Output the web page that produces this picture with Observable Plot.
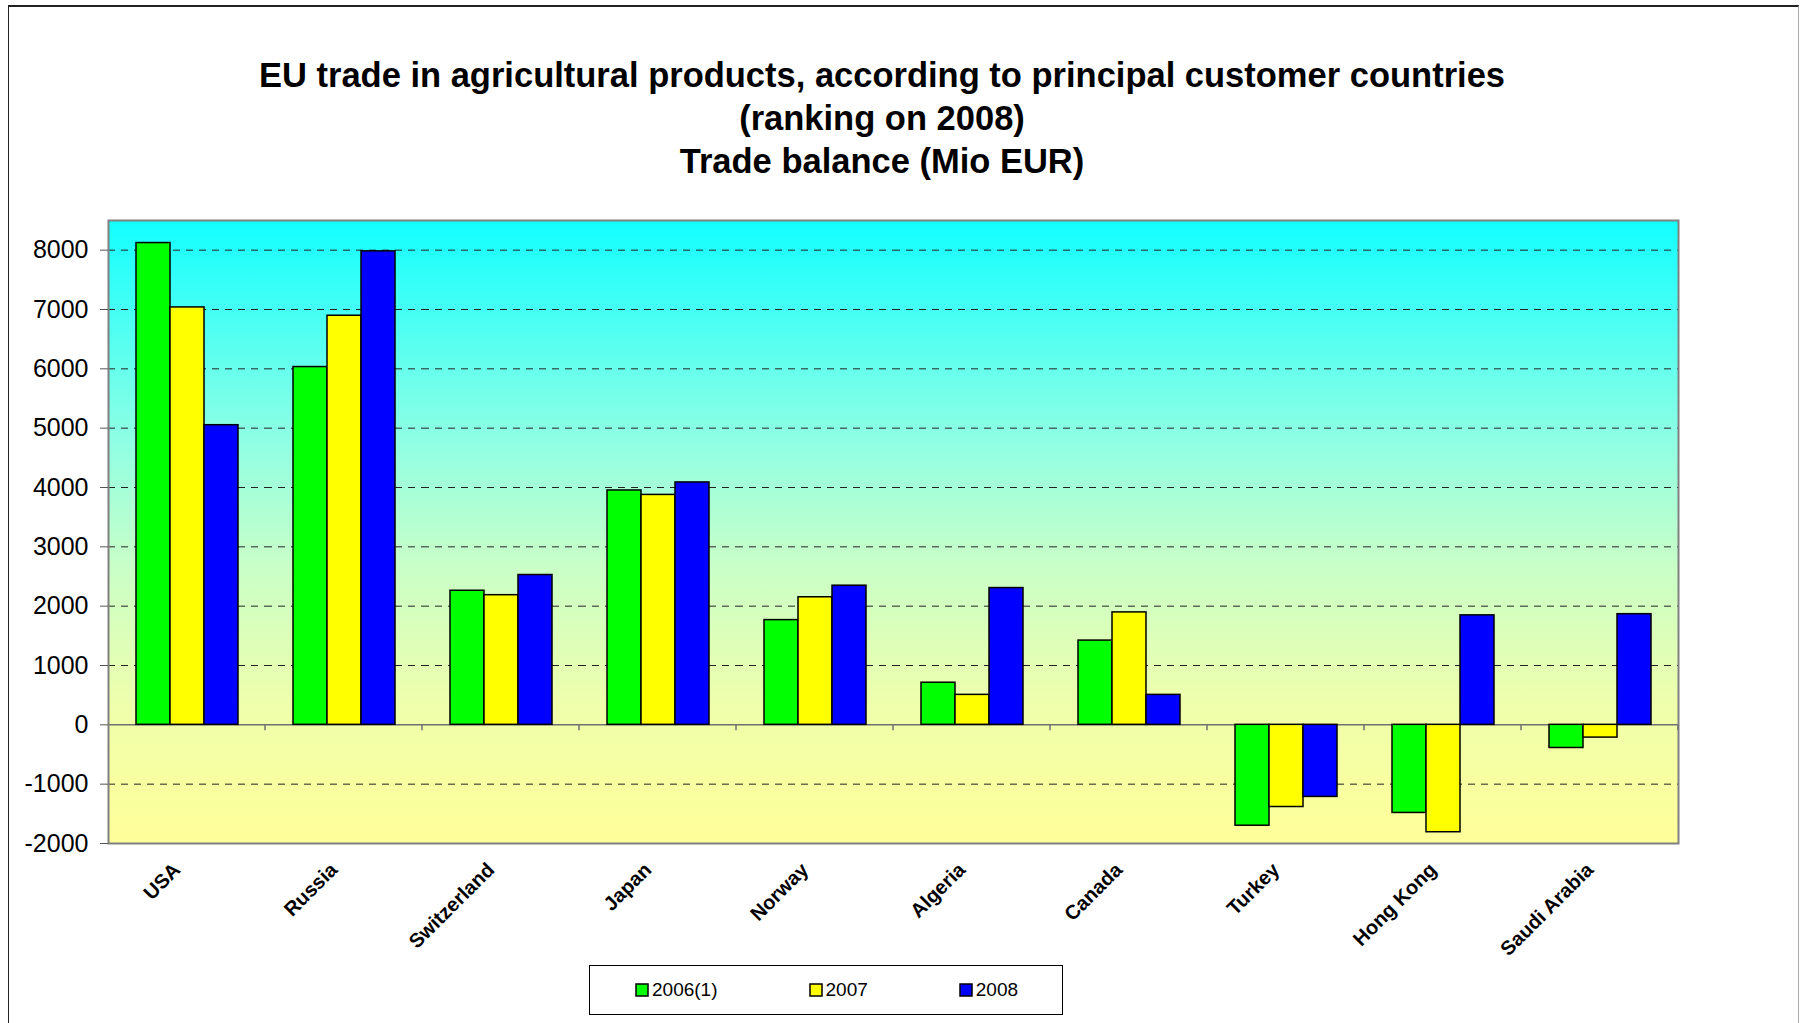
<!DOCTYPE html>
<html><head><meta charset="utf-8">
<script src="https://cdn.jsdelivr.net/npm/d3@7"></script>
<script src="https://cdn.jsdelivr.net/npm/@observablehq/plot@0.6"></script>
<style>
html,body{margin:0;padding:0;background:#fff;}
#page{position:relative;width:1800px;height:1023px;overflow:hidden;font-family:"Liberation Sans",Arial,sans-serif;}
#frame{position:absolute;left:8px;top:5px;width:1789px;height:1100px;border-left:1.5px solid #222;border-top:2px solid #222;border-right:1.5px solid #aaa;}
#title{position:absolute;left:0;top:54px;width:1764px;text-align:center;font-weight:bold;font-size:34.5px;line-height:43px;color:#000;}
#chart{position:absolute;left:0;top:180px;}
#legend{position:absolute;left:589px;top:965px;width:474px;height:50px;border:1px solid #000;background:#fff;display:flex;align-items:center;box-sizing:border-box;padding-left:46px;}
#legend div{font-family:"Liberation Sans",Arial,sans-serif;font-size:19px;margin:0;min-height:0;color:#000;flex-wrap:nowrap;}
#legend span{margin-right:92px;}
#legend span:last-child{margin-right:0;}
#legend svg{margin-right:4px;overflow:visible;}
#legend svg rect{stroke:#000;stroke-width:1.5;}
</style></head><body>
<div id="page">
<div id="frame"></div>
<div id="title">EU trade in agricultural products, according to principal customer countries<br>(ranking on 2008)<br>Trade balance (Mio EUR)</div>
<div id="chart"></div>
<div id="legend"></div>
</div>
<script>
const countries = ["USA","Russia","Switzerland","Japan","Norway","Algeria","Canada","Turkey","Hong Kong","Saudi Arabia"];
const years = ["2006(1)","2007","2008"];
const v2006 = [8120, 6030, 2260, 3950, 1765, 710, 1420, -1700, -1485, -390];
const v2007 = [7035, 6895, 2185, 3875, 2150, 505, 1895, -1385, -1810, -215];
const v2008 = [5050, 7980, 2525, 4085, 2345, 2305, 505, -1215, 1845, 1865];
const yearColors = ["#00ff00","#ffff00","#0000ff"];
const yTicks = [-2000,-1000,0,1000,2000,3000,4000,5000,6000,7000,8000];
const gridValues = [-1000,1000,2000,3000,4000,5000,6000,7000,8000];
const yDomain = [-2000, 8500];

const series = [v2006, v2007, v2008];
const data = countries.flatMap((c, i) => years.map((yr, j) => ({country: c, year: yr, value: series[j][i]})));

const chart = Plot.plot({
  width: 1800, height: 780,
  marginLeft: 108, marginRight: 122, marginTop: 40, marginBottom: 117,
  style: {fontFamily: '"Liberation Sans", Arial, sans-serif', background: "transparent", overflow: "visible", color: "#000"},
  fx: {domain: countries, padding: 0, label: null},
  x: {domain: years, paddingInner: 0, paddingOuter: 0.743, axis: null},
  y: {domain: yDomain},
  color: {domain: years, range: yearColors},
  marks: [
    Plot.frame({facet: "super", fill: "url(#bgGrad)", stroke: "none"}),
    Plot.ruleY(gridValues, {stroke: "#222", strokeWidth: 1, strokeDasharray: "7,6"}),
    Plot.ruleY([0], {stroke: "#707070", strokeWidth: 1.5}),
    Plot.barY(data, {fx: "country", x: "year", y: "value", fill: "year", stroke: "#000", strokeWidth: 1.5}),
    Plot.frame({facet: "super", stroke: "#808080", strokeWidth: 2}),
    Plot.axisY({ticks: yTicks, tickFormat: d => String(d), tickSize: 8, tickPadding: 12, fontSize: 25, stroke: "#555", label: null}),
    Plot.axisFx({anchor: "bottom", tickRotate: -45, fontSize: 20, fontWeight: "bold", tickSize: 0, tickPadding: 23, dx: -10, label: null})
  ]
});

const svg = d3.select(chart.tagName.toLowerCase() === "svg" ? chart : chart.querySelector("svg"));
const defs = svg.insert("defs", ":first-child");
const grad = defs.append("linearGradient").attr("id", "bgGrad").attr("x1", 0).attr("y1", 0).attr("x2", 0).attr("y2", 1);
[[0, "#12ffff"], [0.35, "#8effe4"], [0.55, "#c8ffc8"], [0.78, "#efffab"], [1, "#ffff99"]]
  .forEach(([o, c]) => grad.append("stop").attr("offset", o).attr("stop-color", c));

// category boundary ticks on the zero line, placed with Plot's own scales
const fxs = chart.scale("fx"), ys = chart.scale("y");
const y0 = ys.apply(0);
const bounds = countries.slice(1).map(c => fxs.apply(c)).concat([fxs.apply(countries[countries.length - 1]) + fxs.step]);
svg.append("g").selectAll("line").data(bounds).join("line")
  .attr("x1", d => d).attr("x2", d => d).attr("y1", y0).attr("y2", y0 + 6)
  .attr("stroke", "#707070").attr("stroke-width", 1.5);

document.getElementById("chart").appendChild(chart);
document.getElementById("legend").appendChild(Plot.legend({color: {domain: years, range: yearColors}, legend: "swatches", swatchSize: 12}));
</script>
</body></html>
